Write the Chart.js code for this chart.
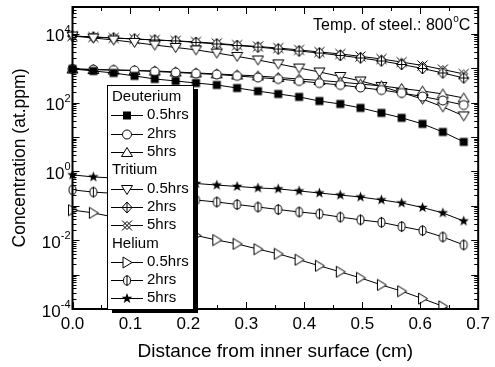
<!DOCTYPE html>
<html>
<head>
<meta charset="utf-8">
<script src="https://cdn.jsdelivr.net/npm/chart.js@4"></script>
<style>
  body { margin: 0; background: #fff; }
  canvas { display: block; }
</style>
</head>
<body>
<canvas id="chart" width="495" height="367"></canvas>
<script>
// Data (distance in cm, concentration in at.ppm)
const distance = [0, 0.036, 0.071, 0.107, 0.142, 0.178, 0.213, 0.249, 0.284, 0.32, 0.355, 0.391, 0.426, 0.462, 0.497, 0.533, 0.568, 0.604, 0.639, 0.675];

const deutHalf = [950, 830, 725, 595, 485, 425, 370, 325, 265, 215, 178, 146, 111, 91, 70, 50, 36, 24, 14, 7.2];
const deutTwo  = [950, 915, 885, 855, 800, 750, 700, 655, 595, 535, 485, 425, 370, 325, 275, 232, 190, 150, 115, 85];
const deutFive = [950, 915, 885, 860, 830, 775, 725, 680, 635, 595, 535, 485, 440, 395, 345, 305, 257, 217, 178, 136];

const tritHalf = [8600, 7550, 6600, 5600, 4700, 4000, 3400, 2750, 2200, 1730, 1330, 1010, 775, 575, 425, 295, 195, 126, 75, 41];
const tritTwo  = [8600, 8050, 7550, 7050, 6600, 6200, 5600, 5050, 4550, 4100, 3600, 3150, 2750, 2350, 1980, 1620, 1280, 980, 725, 520];
const tritFive = [8600, 8050, 7550, 7050, 6600, 6200, 5800, 5250, 4700, 4250, 3850, 3400, 2950, 2600, 2200, 1850, 1500, 1200, 915, 680];

const heHalf = [0.075, 0.062, 0.047, 0.034, 0.026, 0.0185, 0.0137, 0.0101, 0.0078, 0.0055, 0.004, 0.0027, 0.0018, 0.0012, 0.0008, 0.0005, 0.00033, 0.0002, 0.00012, 0.000067];
const heTwo  = [0.29, 0.25, 0.23, 0.205, 0.185, 0.168, 0.147, 0.129, 0.109, 0.092, 0.078, 0.066, 0.058, 0.047, 0.039, 0.033, 0.025, 0.019, 0.0124, 0.0073];
const heFive = [0.79, 0.69, 0.64, 0.58, 0.53, 0.49, 0.445, 0.40, 0.365, 0.33, 0.31, 0.27, 0.235, 0.205, 0.18, 0.148, 0.121, 0.089, 0.062, 0.036];

const yExponents = [-4, -2, 0, 2, 4];
const FONT = '"Liberation Sans", Arial, sans-serif';

// --- marker shapes ---
function drawMarker(ctx, type, cx, cy) {
    ctx.save();
    ctx.lineWidth = 1;
    ctx.strokeStyle = '#000';
    ctx.fillStyle = '#fff';
    ctx.beginPath();
    if (type === 'square') {
        ctx.fillStyle = '#000';
        ctx.fillRect(cx - 4, cy - 4, 8, 8);
    } else if (type === 'circle') {
        ctx.arc(cx, cy, 4.5, 0, Math.PI * 2);
        ctx.fill(); ctx.stroke();
    } else if (type === 'triUp') {
        ctx.moveTo(cx, cy - 5); ctx.lineTo(cx + 5.5, cy + 4); ctx.lineTo(cx - 5.5, cy + 4); ctx.closePath();
        ctx.fill(); ctx.stroke();
    } else if (type === 'triDown') {
        ctx.moveTo(cx - 5.5, cy - 4); ctx.lineTo(cx + 5.5, cy - 4); ctx.lineTo(cx, cy + 5); ctx.closePath();
        ctx.fill(); ctx.stroke();
    } else if (type === 'triRight') {
        ctx.moveTo(cx - 4, cy - 5.5); ctx.lineTo(cx + 5, cy); ctx.lineTo(cx - 4, cy + 5.5); ctx.closePath();
        ctx.fill(); ctx.stroke();
    } else if (type === 'diamondPlus') {
        ctx.moveTo(cx, cy - 5.5); ctx.lineTo(cx + 5, cy); ctx.lineTo(cx, cy + 5.5); ctx.lineTo(cx - 5, cy); ctx.closePath();
        ctx.fill(); ctx.stroke();
        ctx.beginPath();
        ctx.moveTo(cx, cy - 5.5); ctx.lineTo(cx, cy + 5.5);
        ctx.moveTo(cx - 5, cy); ctx.lineTo(cx + 5, cy);
        ctx.stroke();
    } else if (type === 'xDiamond') {
        ctx.moveTo(cx, cy - 4); ctx.lineTo(cx + 4, cy); ctx.lineTo(cx, cy + 4); ctx.lineTo(cx - 4, cy); ctx.closePath();
        ctx.fill(); ctx.stroke();
        ctx.beginPath();
        ctx.moveTo(cx - 5, cy - 5); ctx.lineTo(cx + 5, cy + 5);
        ctx.moveTo(cx + 5, cy - 5); ctx.lineTo(cx - 5, cy + 5);
        ctx.stroke();
    } else if (type === 'phi') {
        ctx.ellipse(cx, cy, 3.5, 4.5, 0, 0, Math.PI * 2);
        ctx.fill(); ctx.stroke();
        ctx.beginPath();
        ctx.moveTo(cx, cy - 5.5); ctx.lineTo(cx, cy + 5.5);
        ctx.stroke();
    } else if (type === 'star') {
        ctx.fillStyle = '#000';
        for (let k = 0; k < 10; k++) {
            const r = k % 2 === 0 ? 5.5 : 2.3;
            const a = -Math.PI / 2 + k * Math.PI / 5;
            const px = cx + r * Math.cos(a), py = cy + r * Math.sin(a);
            if (k === 0) ctx.moveTo(px, py); else ctx.lineTo(px, py);
        }
        ctx.closePath();
        ctx.fill();
    }
    ctx.restore();
}

function markerCanvas(type) {
    const c = document.createElement('canvas');
    c.width = 13; c.height = 13;
    drawMarker(c.getContext('2d'), type, 6.5, 6.5);
    return c;
}

const series = [
    { label: '0.5hrs', group: 'Deuterium', data: deutHalf, marker: 'square' },
    { label: '2hrs',   group: 'Deuterium', data: deutTwo,  marker: 'circle' },
    { label: '5hrs',   group: 'Deuterium', data: deutFive, marker: 'triUp' },
    { label: '0.5hrs', group: 'Tritium',   data: tritHalf, marker: 'triDown' },
    { label: '2hrs',   group: 'Tritium',   data: tritTwo,  marker: 'diamondPlus' },
    { label: '5hrs',   group: 'Tritium',   data: tritFive, marker: 'xDiamond' },
    { label: '0.5hrs', group: 'Helium',    data: heHalf,   marker: 'triRight' },
    { label: '2hrs',   group: 'Helium',    data: heTwo,    marker: 'phi' },
    { label: '5hrs',   group: 'Helium',    data: heFive,   marker: 'star' }
];

const datasets = series.map(s => ({
    label: s.group + ' ' + s.label,
    data: distance.map((x, i) => ({ x: x, y: s.data[i] })),
    borderColor: '#000',
    borderWidth: 1,
    pointStyle: markerCanvas(s.marker),
    pointRadius: 5,
    tension: 0,
    clip: { left: 10, top: 10, right: 10, bottom: 0 }
}));

// frame, inward ticks, y labels, note and the boxed legend
const decorations = {
    id: 'decorations',
    afterDatasetsDraw(chart) {
        const ctx = chart.ctx;
        const a = chart.chartArea;
        const xs = chart.scales.x, ys = chart.scales.y;
        ctx.save();
        ctx.strokeStyle = '#000';

        // ticks
        ctx.lineWidth = 1;
        ctx.beginPath();
        for (let v = 0; v <= 14; v++) {
            const px = Math.round(xs.getPixelForValue(v * 0.05)) + 0.5;
            const len = v % 2 === 0 ? 7 : 4;
            ctx.moveTo(px, a.bottom); ctx.lineTo(px, a.bottom - len);
            ctx.moveTo(px, a.top); ctx.lineTo(px, a.top + len);
        }
        for (let e = -4; e <= 4; e++) {
            for (let m = 1; m <= 9; m++) {
                const val = m * Math.pow(10, e);
                if (val > ys.max) continue;
                const py = Math.round(ys.getPixelForValue(val)) + 0.5;
                const len = m === 1 ? 7 : 4;
                ctx.moveTo(a.left, py); ctx.lineTo(a.left + len, py);
                ctx.moveTo(a.right, py); ctx.lineTo(a.right - len, py);
            }
        }
        ctx.stroke();

        // frame
        ctx.lineWidth = 2;
        ctx.strokeRect(a.left, a.top, a.right - a.left, a.bottom - a.top);

        // y tick labels with superscript exponents
        ctx.fillStyle = '#000';
        ctx.textBaseline = 'middle';
        ctx.textAlign = 'right';
        yExponents.forEach(e => {
            const py = ys.getPixelForValue(Math.pow(10, e));
            const exp = String(e);
            ctx.font = '11px ' + FONT;
            const ew = ctx.measureText(exp).width;
            ctx.fillText(exp, a.left - 2, py - 4);
            ctx.font = '17px ' + FONT;
            ctx.fillText('10', a.left - 2 - ew, py + 3);
        });

        // temperature note
        ctx.textAlign = 'left';
        ctx.textBaseline = 'alphabetic';
        let tx = 313;
        const ty = 30;
        ctx.font = '16px ' + FONT;
        const t1 = 'Temp. of steel.: 800';
        ctx.fillText(t1, tx, ty);
        tx += ctx.measureText(t1).width + 0.5;
        ctx.font = '10px ' + FONT;
        ctx.fillText('o', tx, ty - 8);
        tx += ctx.measureText('o').width;
        ctx.font = '16px ' + FONT;
        ctx.fillText('C', tx, ty);

        // legend box with shadow
        const lx = 107, ly = 85, lw = 86, lh = 224;
        ctx.fillStyle = '#000';
        ctx.fillRect(lx + 5, ly + 4, lw, lh);
        ctx.fillStyle = '#fff';
        ctx.fillRect(lx, ly, lw, lh);
        ctx.lineWidth = 1;
        ctx.strokeRect(lx + 0.5, ly + 0.5, lw, lh);

        ctx.fillStyle = '#000';
        ctx.textBaseline = 'middle';
        ctx.font = '15px ' + FONT;
        let row = 0;
        let lastGroup = null;
        const rowY = r => 97 + r * 18.3;
        series.forEach(s => {
            if (s.group !== lastGroup) {
                ctx.fillText(s.group, 112, rowY(row));
                row++;
                lastGroup = s.group;
            }
            const ry = Math.round(rowY(row)) + 0.5;
            ctx.beginPath();
            ctx.moveTo(111, ry); ctx.lineTo(143, ry);
            ctx.stroke();
            drawMarker(ctx, s.marker, 127, ry);
            ctx.fillText(s.label, 147, rowY(row));
            row++;
        });
        ctx.restore();
    }
};

new Chart(document.getElementById('chart'), {
    type: 'line',
    data: { datasets: datasets },
    options: {
        responsive: false,
        animation: false,
        layout: { padding: { top: 7, right: 13 } },
        plugins: { legend: { display: false }, tooltip: { enabled: false } },
        scales: {
            x: {
                type: 'linear',
                min: 0,
                max: 0.7,
                afterFit: s => { s.height = 58; },
                grid: { display: false, drawTicks: false },
                border: { display: false },
                ticks: {
                    stepSize: 0.1,
                    autoSkip: false,
                    maxRotation: 0,
                    padding: 5,
                    color: '#000',
                    font: { family: FONT, size: 17 },
                    callback: v => v.toFixed(1)
                },
                title: {
                    display: true,
                    text: 'Distance from inner surface (cm)',
                    color: '#000',
                    font: { family: FONT, size: 19 },
                    padding: { top: 0, bottom: 4 }
                }
            },
            y: {
                type: 'logarithmic',
                min: 1e-4,
                max: 6e4,
                afterFit: s => { s.width = 72.5; },
                grid: { display: false, drawTicks: false },
                border: { display: false },
                ticks: { display: false },
                title: {
                    display: true,
                    text: 'Concentration (at.ppm)',
                    color: '#000',
                    font: { family: FONT, size: 17.5 },
                    padding: { top: 10, bottom: 0 }
                }
            }
        }
    },
    plugins: [decorations]
});
</script>
</body>
</html>
